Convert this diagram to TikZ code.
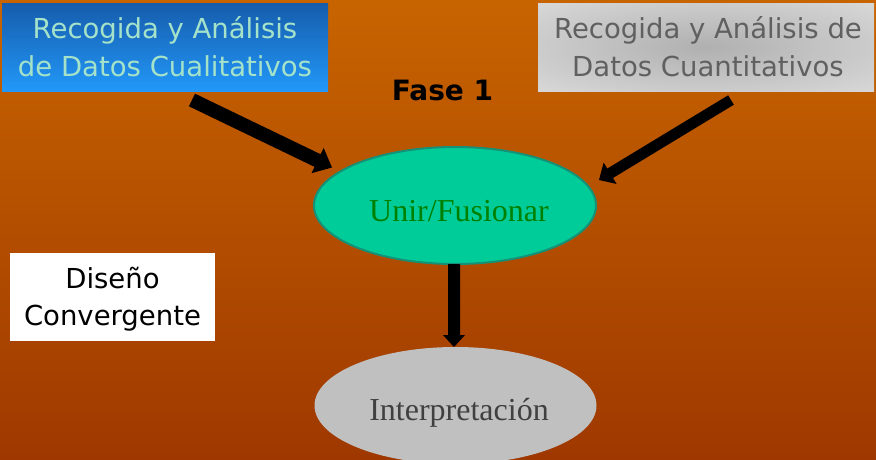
\documentclass[tikz,border=0pt]{standalone}
\usepackage{fontspec}
\setmainfont{Liberation Serif}
\setsansfont{DejaVu Sans}
\usetikzlibrary{shapes.geometric,calc}
\definecolor{bgtop}{RGB}{200,100,0}
\definecolor{bgbot}{RGB}{158,56,0}
\definecolor{bluetop}{RGB}{22,92,172}
\definecolor{bluebot}{RGB}{34,152,248}
\definecolor{mint}{RGB}{164,226,202}
\definecolor{graymid}{RGB}{176,176,176}
\definecolor{grayout}{RGB}{232,232,232}
\definecolor{graytext}{RGB}{96,96,96}
\definecolor{fusfill}{RGB}{0,204,153}
\definecolor{fusdraw}{RGB}{20,145,118}
\definecolor{fustext}{RGB}{0,128,0}
\definecolor{intfill}{RGB}{192,192,192}
\definecolor{inttext}{RGB}{64,64,64}
\pgfdeclareradialshading{grayrad}{\pgfpoint{0bp}{0bp}}{color(0bp)=(graymid); color(50bp)=(grayout)}
\tikzset{
  sanstext/.style={font=\sffamily\fontsize{27.5}{33}\selectfont, inner sep=0pt, anchor=base},
  seriftext/.style={font=\rmfamily\fontsize{32}{38}\selectfont, inner sep=0pt, anchor=base},
  boxbase/.style={rectangle, inner sep=0pt, outer sep=0pt, minimum height=88pt},
  bluebox/.style={boxbase, top color=bluetop, bottom color=bluebot, minimum width=326pt},
  graybox/.style={boxbase, shading=grayrad, minimum width=336pt},
  whitebox/.style={boxbase, fill=white, minimum width=205pt},
  ellbase/.style={ellipse, inner sep=0pt, outer sep=0pt, minimum width=282pt, minimum height=117pt},
  fusell/.style={ellbase, fill=fusfill, draw=fusdraw, line width=2pt},
  intell/.style={ellbase, fill=intfill},
  blockfill/.style={fill=black}
}
% #1 start, #2 end, #3 half shaft width, #4 half head width, #5 head length
\newcommand\myblockarrow[5]{%
  \fill[blockfill]
    ($(#1)!#3!90:(#2)$) --
    ($($(#2)!#5!(#1)$)!#3!-90:(#1)$) --
    ($($(#2)!#5!(#1)$)!#4!-90:(#1)$) --
    (#2) --
    ($($(#2)!#5!(#1)$)!#4!90:(#1)$) --
    ($($(#2)!#5!(#1)$)!#3!90:(#1)$) --
    ($(#1)!#3!-90:(#2)$) -- cycle;}
\begin{document}
\begin{tikzpicture}[x=1pt,y=-1pt]
\useasboundingbox (0,0) rectangle (876,459);
\fill[top color=bgtop, bottom color=bgbot] (0,0) rectangle (876,459);

% boxes
\node[bluebox] (qual) at (165,47) {};
\node[sanstext, text=mint] (qual1) at (165,38) {Recogida y Análisis};
\node[sanstext, text=mint] (qual2) at (165,76) {de Datos Cualitativos};

\node[graybox] (quan) at (706,47) {};
\node[sanstext, text=graytext] (quan1) at (708,38) {Recogida y Análisis de};
\node[sanstext, text=graytext] (quan2) at (708,76) {Datos Cuantitativos};

\node[sanstext, font=\sffamily\bfseries\fontsize{28}{33}\selectfont] (fase) at (442.5,100) {Fase 1};

\node[whitebox] (dis) at (112.5,297) {};
\node[sanstext] (dis1) at (112.5,288) {Diseño};
\node[sanstext] (dis2) at (112.5,325) {Convergente};

% ellipses
\node[fusell] (fus) at (455,205.5) {};
\node[seriftext, text=fustext] (fust) at (459,221.5) {Unir/Fusionar};

\node[intell] (int) at (455.5,405.5) {};
\node[seriftext, text=inttext] (intt) at (459,420) {Interpretación};

% arrows
\coordinate (a1s) at (192,100);
\coordinate (a1e) at (332,167.5);
\coordinate (a2s) at (731,100);
\coordinate (a2e) at (599,180);
\coordinate (a3s) at (454,264);
\coordinate (a3e) at (454,347);
\myblockarrow{a1s}{a1e}{7pt}{14pt}{16pt}
\myblockarrow{a2s}{a2e}{5.5pt}{12.5pt}{13pt}
\myblockarrow{a3s}{a3e}{6pt}{11pt}{12pt}
\end{tikzpicture}
\end{document}
